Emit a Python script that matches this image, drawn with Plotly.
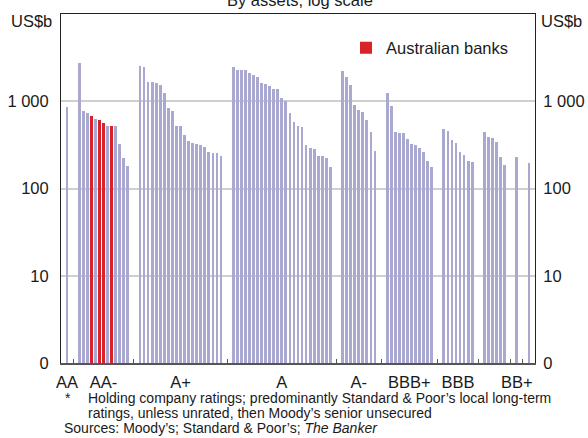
import plotly.graph_objects as go

# ---- data (US$b) ----
categories = ["AA", "AA-", "A+", "A", "A-", "BBB+", "BBB", "BBB-", "BB+", "BB"]
category_labels = ["AA", "AA-", "A+", "A", "A-", "BBB+", "BBB", "", "BB+", ""]

aa = [870]
aa_minus = [2720, 783, 724, 669, 618, 602, 556, 514, 514, 514, 321, 222, 180]
a_plus = [2556, 2490, 1679, 1679, 1635, 1538, 1257, 847, 783, 514, 514, 406,
          347, 329, 321, 312, 296, 260, 253, 253, 234]
a_mid = [2490, 2300, 2300, 2300, 2126, 2018, 1889, 1635, 1592, 1511, 1396, 1396,
         1102, 1018, 743, 571, 514, 501, 312, 288, 281, 234, 234, 222, 175]
a_minus = [2240, 1915, 1552, 916, 804, 763, 602, 440, 267]
bbb_plus = [1257, 893, 440, 429, 429, 366, 321, 312, 288, 260, 205, 175]
bbb = [475, 451, 356, 329, 260, 240, 205, 200]
bbb_minus = [440, 385, 375, 338, 228, 184]
bb_plus = [228]
bb = [194]

series = [aa, aa_minus, a_plus, a_mid, a_minus, bbb_plus, bbb, bbb_minus, bb_plus, bb]
# Australian banks: positions within the AA- group
australian = {"AA-": [3, 5, 6, 8]}

y_tickvals = [1, 10, 100, 1000]
y_ticktext = ["0", "10", "100", "1 000"]

# ---- layout of slots ----
GAP = 2
LEAD = 1
other_x, other_y, aus_x, aus_y = [], [], [], []
centers, boundaries = [], []
pos = LEAD
for ci, (cat, vals) in enumerate(zip(categories, series)):
    idx = list(range(pos, pos + len(vals)))
    centers.append(sum(idx) / len(idx))
    for k, (xi, v) in enumerate(zip(idx, vals)):
        if k in australian.get(cat, []):
            aus_x.append(xi); aus_y.append(v)
        else:
            other_x.append(xi); other_y.append(v)
    if ci < len(categories) - 1:
        boundaries.append(idx[-1] + (GAP + 1) / 2)
    pos += len(vals) + GAP
last = pos - GAP - 1
x_range = [-0.5, last + 1.5]

FONT = "Liberation Sans, Arial, sans-serif"
LAV = "#A8A8D1"
RED = "#D8232A"

fig = go.Figure()
fig.add_trace(go.Bar(x=other_x, y=other_y, marker_color=LAV, marker_line_width=0,
                     width=0.68, showlegend=False, name="Other banks"))
fig.add_trace(go.Bar(x=aus_x, y=aus_y, marker_color=RED, marker_line_width=0,
                     width=0.68, showlegend=True, name="Australian banks"))
# invisible traces to activate the extra axes
fig.add_trace(go.Scatter(x=[None], y=[None], xaxis="x2", yaxis="y", showlegend=False))
fig.add_trace(go.Scatter(x=[None], y=[None], xaxis="x3", yaxis="y", showlegend=False))
fig.add_trace(go.Scatter(x=[None], y=[None], xaxis="x", yaxis="y2", showlegend=False))

L, R, T, B = 61, 53, 14, 75
W, H = 588, 438
pw = W - L - R
ph = H - T - B

fig.update_layout(
    width=W, height=H,
    margin=dict(l=L, r=R, t=T, b=B, pad=0, autoexpand=False),
    paper_bgcolor="white", plot_bgcolor="white",
    bargap=0, barmode="overlay",
    font=dict(family=FONT, size=16.5, color="#1a1a1a"),
    xaxis=dict(range=x_range, tickmode="array", tickvals=centers, ticktext=category_labels,
               ticks="", showgrid=False, zeroline=False, showline=True, automargin=False,
               linecolor="#555555", linewidth=2, ticklabelstandoff=3,
               tickfont=dict(size=16.5)),
    xaxis2=dict(range=x_range, overlaying="x", side="bottom", anchor="y", automargin=False,
                tickmode="array", tickvals=boundaries, ticktext=[""] * len(boundaries),
                ticks="inside", ticklen=4, tickwidth=1, tickcolor="#555555",
                showgrid=False, zeroline=False, showline=False, showticklabels=False),
    xaxis3=dict(range=x_range, overlaying="x", side="top", anchor="y", automargin=False,
                showticklabels=False, ticks="", showgrid=False, zeroline=False,
                showline=True, linecolor="#222222", linewidth=1),
    yaxis=dict(type="log", range=[0, 4], tickmode="array", tickvals=y_tickvals,
               ticktext=y_ticktext, ticks="", showgrid=True, gridcolor="#CFCFCF",
               gridwidth=1.5, zeroline=False, showline=True, linecolor="#222222",
               linewidth=1, ticklabelstandoff=8, automargin=False),
    yaxis2=dict(type="log", range=[0, 4], overlaying="y", side="right", anchor="x",
                tickmode="array", tickvals=y_tickvals, ticktext=y_ticktext, ticks="",
                showgrid=False, zeroline=False, showline=True, linecolor="#222222",
                linewidth=1, ticklabelstandoff=4, automargin=False),
    legend=dict(x=(346 - L) / pw, y=(H - B - 48) / ph, xanchor="left", yanchor="middle",
                bgcolor="rgba(0,0,0,0)", font=dict(size=16.5), itemwidth=30),
)

def px_x(px):
    return (px - L) / pw

def px_y(py):
    return (H - B - py) / ph

NOTE = 14
ann = [
    dict(text="By assets, log scale", x=px_x(300), y=1, yanchor="bottom", yshift=3,
         xanchor="center", font=dict(size=16.5)),
    dict(text="US$b", x=0, xanchor="right", xshift=-7, y=px_y(21), yanchor="middle"),
    dict(text="US$b", x=1, xanchor="left", xshift=4, y=px_y(21), yanchor="middle"),
    dict(text="*", x=px_x(63), xanchor="left", y=px_y(398), yanchor="middle",
         font=dict(size=NOTE)),
    dict(text="Holding company ratings; predominantly Standard &amp; Poor’s local long-term",
         x=px_x(86), xanchor="left", y=px_y(398), yanchor="middle", font=dict(size=NOTE)),
    dict(text="ratings, unless unrated, then Moody’s senior unsecured",
         x=px_x(86), xanchor="left", y=px_y(413), yanchor="middle", font=dict(size=NOTE)),
    dict(text="Sources: Moody’s; Standard &amp; Poor’s; <i>The Banker</i>",
         x=px_x(62), xanchor="left", y=px_y(428), yanchor="middle", font=dict(size=NOTE)),
]
for a in ann:
    a.setdefault("font", dict(size=16.5))
    fig.add_annotation(xref="paper", yref="paper", showarrow=False, **a)

fig.write_html("out.html", config={"displayModeBar": False},
               post_script="document.body.style.margin='0';document.body.style.overflow='hidden';")
